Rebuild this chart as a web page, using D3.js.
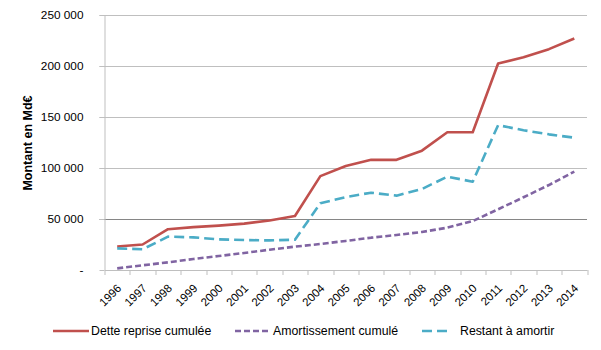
<!DOCTYPE html>
<html>
<head>
<meta charset="utf-8">
<script src="https://cdn.jsdelivr.net/npm/d3@7"></script>
<style>
  body { margin: 0; background: #fff; }
  text { font-family: "Liberation Sans", Arial, sans-serif; fill: #000; }
</style>
</head>
<body>
<div id="chart"></div>
<script>
// data
var years = ["1996","1997","1998","1999","2000","2001","2002","2003","2004","2005",
             "2006","2007","2008","2009","2010","2011","2012","2013","2014"];
var dette = [23000, 25000, 40000, 42000, 43500, 45500, 48500, 53000, 92000, 102000,
             108000, 108000, 117000, 135000, 135000, 202500, 208500, 216500, 227000];
var amort = [1600, 4600, 7500, 10800, 13700, 16700, 19900, 22900, 25500, 28500,
             31700, 34300, 37300, 41500, 48000, 59500, 71300, 83300, 96500];
var restant = [21200, 20300, 32700, 32000, 30000, 29400, 29000, 29700, 65400, 71500,
               75800, 72900, 79400, 91500, 86600, 142000, 137000, 133000, 129700];
var yTicks = [0, 50000, 100000, 150000, 200000, 250000];
var seriesNames = ["Dette reprise cumulée", "Amortissement cumulé", "Restant à amortir"];
var seriesColors = ["#C0504D", "#8064A2", "#4BACC6"];
var seriesDash = [null, "6,3", "10,5"];

var margin = {top: 15, right: 14, bottom: 80, left: 104.5},
    width = 601 - margin.left - margin.right,
    height = 350 - margin.top - margin.bottom;

var svg = d3.select("#chart")
  .append("svg")
    .attr("width", 601)
    .attr("height", 350)
  .append("g")
    .attr("transform", "translate(" + margin.left + "," + margin.top + ")");

var x = d3.scaleBand()
  .domain(years)
  .range([0, width]);

var y = d3.scaleLinear()
  .domain([0, 250000])
  .range([height, 0]);

// gridlines
svg.selectAll(".grid")
  .data(yTicks.filter(function(d) { return d > 0; }))
  .enter().append("line")
    .attr("x1", -5)
    .attr("x2", width)
    .attr("y1", function(d) { return Math.round(y(d)) + 0.5; })
    .attr("y2", function(d) { return Math.round(y(d)) + 0.5; })
    .attr("stroke", function(d) { return d == 50000 ? "#868686" : "#BFBFBF"; })
    .attr("stroke-width", 1);

// y axis
var yAxis = svg.append("g")
  .call(d3.axisLeft(y)
    .tickValues(yTicks)
    .tickSize(5)
    .tickPadding(16)
    .tickFormat(function(d) { return d == 0 ? "-" : d3.format(",")(d).replace(/,/g, " "); }));
yAxis.select(".domain").attr("stroke", "#BFBFBF").attr("d", "M0.5,0V" + height);
yAxis.selectAll(".tick line").attr("stroke", "#BFBFBF");
yAxis.selectAll(".tick text")
  .attr("x", -21)
  .style("font-size", "11.8px")
  .style("font-family", "Liberation Sans, Arial, sans-serif");

// x axis
var xAxis = svg.append("g")
  .attr("transform", "translate(0," + height + ")")
  .call(d3.axisBottom(x).tickSize(0).tickFormat(""));
xAxis.select(".domain").attr("stroke", "#BFBFBF");
xAxis.selectAll(".tick").remove();

// tick marks between categories
svg.selectAll(".xtick")
  .data(years.concat(["end"]))
  .enter().append("line")
    .attr("x1", function(d, i) { return Math.round(i * x.step()) + 0.5; })
    .attr("x2", function(d, i) { return Math.round(i * x.step()) + 0.5; })
    .attr("y1", height)
    .attr("y2", height + 5)
    .attr("stroke", "#BFBFBF");

svg.selectAll(".xlabel")
  .data(years)
  .enter().append("text")
    .text(function(d) { return d; })
    .attr("transform", function(d) {
      return "translate(" + (x(d) + x.bandwidth() / 2 + 2) + "," + (height + 16) + ") rotate(-45)";
    })
    .attr("dy", "0.35em")
    .style("text-anchor", "end")
    .style("font-size", "11.5px");

// lines
var allSeries = [dette, amort, restant];
var line = d3.line()
  .x(function(d, i) { return x(years[i]) + x.bandwidth() / 2; })
  .y(function(d) { return y(d); });

allSeries.forEach(function(s, k) {
  svg.append("path")
    .datum(s)
    .attr("fill", "none")
    .attr("stroke", seriesColors[k])
    .attr("stroke-width", 2.6)
    .attr("stroke-dasharray", seriesDash[k])
    .attr("stroke-linejoin", "round")
    .attr("d", line);
});

// y axis title
svg.append("text")
  .text("Montant en Md€")
  .attr("transform", "translate(" + (28 - margin.left) + "," + (143 - margin.top) + ") rotate(-90)")
  .attr("dy", "0.35em")
  .style("text-anchor", "middle")
  .style("font-size", "12.5px")
  .style("font-weight", "bold");

// legend
var legendX = [53, 235, 422];
var legendLen = [36, 36, 28];
var legend = d3.select("svg").append("g");
seriesNames.forEach(function(name, k) {
  legend.append("line")
    .attr("x1", legendX[k])
    .attr("x2", legendX[k] + legendLen[k])
    .attr("y1", 331)
    .attr("y2", 331)
    .attr("stroke", seriesColors[k])
    .attr("stroke-width", 2.6)
    .attr("stroke-dasharray", seriesDash[k]);
  legend.append("text")
    .text(name)
    .attr("x", legendX[k] + legendLen[k] + (k == 2 ? 10 : 2))
    .attr("y", 331)
    .attr("dy", "0.35em")
    .style("font-size", "12.3px");
});
</script>
</body>
</html>
